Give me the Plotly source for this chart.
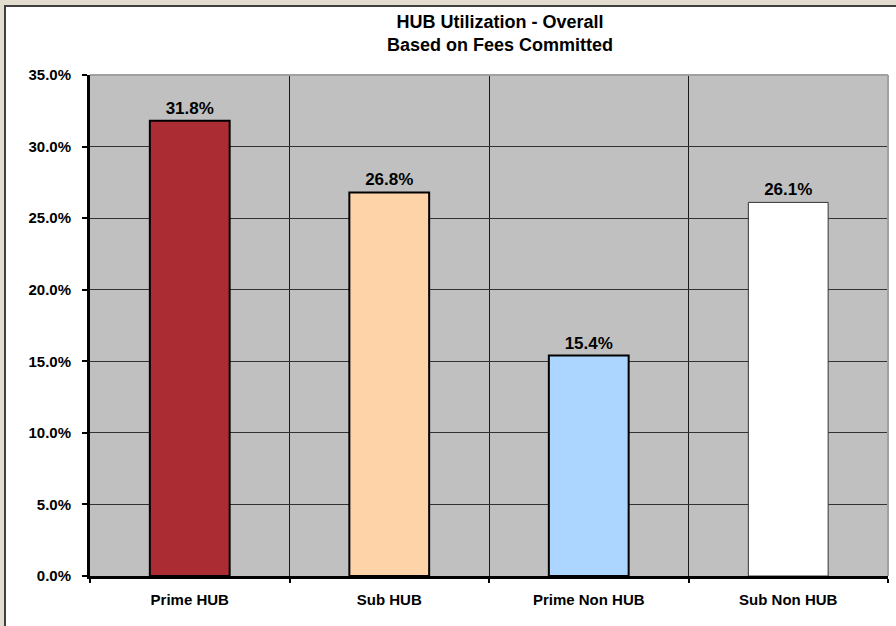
import plotly.graph_objects as go

categories = ["Prime HUB", "Sub HUB", "Prime Non HUB", "Sub Non HUB"]
values = [0.318, 0.268, 0.154, 0.261]
bar_colors = ["#ab2d33", "#ffd3a8", "#acd5ff", "#ffffff"]
line_colors = ["#000000", "#000000", "#000000", "#333333"]
line_widths = [2, 2, 2, 1]
y_ticks = [0, 0.05, 0.10, 0.15, 0.20, 0.25, 0.30, 0.35]

W, H = 896, 626
ML, MR, MT, MB = 90, 8, 75, 50
pw, ph = W - ML - MR, H - MT - MB

def px_x(x):
    return (x - ML) / pw

def px_y(y):
    return (H - MB - y) / ph

FONT = "Liberation Sans, Arial, sans-serif"

fig = go.Figure()
fig.add_trace(go.Bar(
    x=categories, y=values, width=0.4,
    marker=dict(color=bar_colors,
                line=dict(color=line_colors, width=line_widths)),
    texttemplate="%{y:.1%}", textposition="outside", cliponaxis=False,
    textfont=dict(family=FONT, size=17, color="#000000", weight="bold"),
    hoverinfo="skip",
))

shapes = [
    dict(type="rect", xref="paper", yref="paper", layer="below",
         x0=px_x(5), x1=1.3, y0=-0.3, y1=px_y(6),
         fillcolor="#ffffff", line=dict(color="#404040", width=2)),
    dict(type="rect", xref="paper", yref="paper", layer="below",
         x0=0, x1=1, y0=0, y1=1, fillcolor="#c0c0c0", line=dict(width=0)),
    dict(type="line", xref="paper", yref="paper", layer="above",
         x0=0, x1=1, y0=1, y1=1, line=dict(color="#a0a0a0", width=2)),
    dict(type="line", xref="paper", yref="paper", layer="above",
         x0=1, x1=1, y0=0, y1=1, line=dict(color="#a0a0a0", width=2)),
]

fig.update_layout(
    width=W, height=H,
    margin=dict(l=ML, r=MR, t=MT, b=MB, pad=0),
    paper_bgcolor="#e3ddd0",
    plot_bgcolor="rgba(0,0,0,0)",
    showlegend=False,
    shapes=shapes,
    annotations=[dict(
        text="<b>HUB Utilization - Overall<br>Based on Fees Committed</b>",
        xref="paper", yref="paper", x=px_x(500), y=px_y(33),
        xanchor="center", yanchor="middle", showarrow=False,
        font=dict(family=FONT, size=18, color="#000000"))],
)
fig.update_xaxes(
    type="category", tickson="boundaries", showgrid=True,
    gridcolor="#1a1a1a", gridwidth=1,
    ticks="outside", ticklen=4, tickcolor="#000000", tickwidth=2,
    showline=True, linecolor="#000000", linewidth=3,
    tickfont=dict(family=FONT, size=15, color="#000000", weight="bold"),
    ticklabelstandoff=8,
)
fig.update_yaxes(
    range=[0, 0.35], tickvals=y_ticks, tickformat=".1%",
    showgrid=True, gridcolor="#333333", gridwidth=1, zeroline=False,
    ticks="outside", ticklen=5, tickcolor="#000000", tickwidth=2,
    showline=True, linecolor="#000000", linewidth=3,
    tickfont=dict(family=FONT, size=15, color="#000000", weight="bold"),
    ticklabelstandoff=8,
)

fig.write_html("out.html", config={"displayModeBar": False},
               post_script="document.body.style.margin='0';document.body.style.overflow='hidden';")
